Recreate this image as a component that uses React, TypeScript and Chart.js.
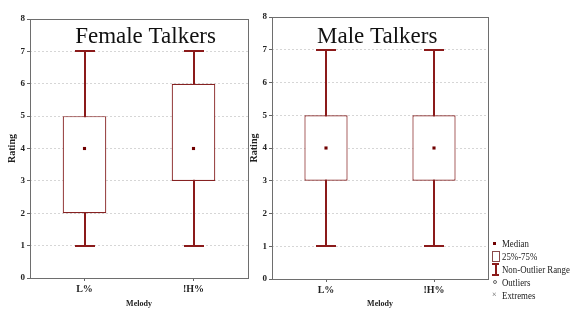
import React, { useEffect, useRef } from 'react';
import { Chart, registerables } from 'chart.js';
Chart.register(...registerables);

const categories = ['L%', '!H%'];
const femaleMin = [1, 1];
const femaleQ1 = [2, 3];
const femaleMedian = [4, 4];
const femaleQ3 = [5, 6];
const femaleMax = [7, 7];
const maleMin = [1, 1];
const maleQ1 = [3, 3];
const maleMedian = [4, 4];
const maleQ3 = [5, 5];
const maleMax = [7, 7];
const yMin = 0;
const yMax = 8;
const legendLabels = ['Median', '25%-75%', 'Non-Outlier Range', 'Outliers', 'Extremes'];

const SERIF = "'Liberation Serif', 'Times New Roman', serif";
const WHISKER = '#8b1a1a';
const BOX = '#862222';
const MEDIAN = '#700000';

const boxPlugin = {
  id: 'boxExtras',
  beforeDatasetsDraw(chart: any, _a: any, opts: any) {
    const { ctx, chartArea: ca } = chart;
    const xs = chart.scales.x;
    const ys = chart.scales.y;
    ctx.save();
    ctx.strokeStyle = '#6e6e6e';
    ctx.lineWidth = 1;
    ctx.strokeRect(
      Math.round(ca.left) + 0.5,
      Math.round(ca.top) + 0.5,
      Math.round(ca.right - ca.left),
      Math.round(ca.bottom - ca.top)
    );
    ctx.strokeStyle = WHISKER;
    ctx.lineWidth = 2;
    (opts.min || []).forEach((mn: number, i: number) => {
      const px = Math.round(xs.getPixelForValue(i));
      const y0 = Math.round(ys.getPixelForValue(mn));
      const y1 = Math.round(ys.getPixelForValue(opts.max[i]));
      ctx.beginPath();
      ctx.moveTo(px, y0);
      ctx.lineTo(px, y1);
      ctx.moveTo(px - 10, y0);
      ctx.lineTo(px + 10, y0);
      ctx.moveTo(px - 10, y1);
      ctx.lineTo(px + 10, y1);
      ctx.stroke();
    });
    ctx.restore();
  },
  afterDatasetsDraw(chart: any, _a: any, opts: any) {
    if (!opts.text) return;
    const { ctx, chartArea: ca } = chart;
    ctx.save();
    ctx.font = `23px ${SERIF}`;
    ctx.fillStyle = '#111';
    ctx.textAlign = 'center';
    ctx.textBaseline = 'alphabetic';
    ctx.fillText(opts.text, ca.left + opts.frac * (ca.right - ca.left), 43);
    ctx.restore();
  },
};

function makeConfig(
  q1: number[], q3: number[], med: number[], mn: number[], mx: number[],
  title: string, frac: number, yWidth: number, yTitlePad: number,
  topPad: number, rightPad: number, xHeight: number
): any {
  return {
    type: 'bar',
    data: {
      labels: categories,
      datasets: [
        {
          type: 'line',
          data: med,
          showLine: false,
          pointStyle: 'rect',
          pointRadius: 2.2,
          pointBackgroundColor: MEDIAN,
          pointBorderColor: MEDIAN,
          pointBorderWidth: 0,
          order: 0,
        },
        {
          type: 'bar',
          data: q1.map((v, i) => [v, q3[i]]),
          backgroundColor: '#ffffff',
          borderColor: BOX,
          borderWidth: 1.2,
          borderSkipped: false,
          barPercentage: 0.4,
          categoryPercentage: 1,
          order: 1,
        },
      ],
    },
    options: {
      responsive: false,
      animation: false,
      layout: { padding: { left: 0, right: rightPad, top: topPad, bottom: 0 } },
      plugins: {
        legend: { display: false },
        tooltip: { enabled: false },
        boxExtras: { min: mn, max: mx, text: title, frac },
      },
      scales: {
        x: {
          type: 'category',
          offset: true,
          grid: { display: true, drawOnChartArea: false, offset: false, tickLength: 3, tickColor: '#666' },
          border: { display: false },
          ticks: { font: { family: SERIF, size: 10, weight: 'bold' }, color: '#222', padding: 2, maxRotation: 0 },
          title: {
            display: true, text: 'Melody', color: '#222',
            font: { family: SERIF, size: 8, weight: 'bold' }, padding: { top: 0, bottom: 0 },
          },
          afterFit: (s: any) => { s.height = xHeight; },
        },
        y: {
          type: 'linear',
          min: yMin,
          max: yMax,
          ticks: { stepSize: 1, font: { family: SERIF, size: 9, weight: 'bold' }, color: '#222', padding: 2 },
          grid: {
            color: (c: any) => (c.tick && (c.tick.value === yMin || c.tick.value === yMax)) ? 'rgba(0,0,0,0)' : '#d6d6d6',
            tickColor: '#666',
            tickLength: 3,
            lineWidth: 1,
          },
          border: { display: false, dash: [2, 2] },
          title: {
            display: true, text: 'Rating', color: '#222',
            font: { family: SERIF, size: 10, weight: 'bold' }, padding: { top: yTitlePad, bottom: 0 },
          },
          afterFit: (s: any) => { s.width = yWidth; },
        },
      },
    },
    plugins: [boxPlugin],
  };
}

function Panel(props: { left: number; width: number; cfg: () => any }) {
  const ref = useRef<HTMLCanvasElement>(null);
  useEffect(() => {
    if (!ref.current) return;
    const chart = new Chart(ref.current, props.cfg());
    return () => chart.destroy();
  }, []);
  return (
    <canvas
      ref={ref}
      width={props.width}
      height={309}
      style={{ position: 'absolute', left: props.left, top: 0, width: props.width, height: 309 }}
    />
  );
}

const legendRows = [243, 256, 269, 282, 295];

function Symbol({ i }: { i: number }) {
  const base: any = { position: 'absolute' };
  if (i === 0) return <div style={{ ...base, left: 3, top: 5, width: 3, height: 3, background: MEDIAN }} />;
  if (i === 1)
    return <div style={{ ...base, left: 2, top: 1, width: 8, height: 11, border: '1px solid #8a4a4a', boxSizing: 'border-box', background: '#fff' }} />;
  if (i === 2)
    return (
      <div style={{ ...base, left: 2, top: 0, width: 7, height: 13 }}>
        <div style={{ position: 'absolute', left: 0, top: 0, width: 7, height: 2, background: WHISKER }} />
        <div style={{ position: 'absolute', left: 2.5, top: 0, width: 2, height: 13, background: WHISKER }} />
        <div style={{ position: 'absolute', left: 0, top: 11, width: 7, height: 2, background: WHISKER }} />
      </div>
    );
  if (i === 3)
    return <div style={{ ...base, left: 3, top: 4, width: 4, height: 4, border: '1px solid #666', borderRadius: '50%', boxSizing: 'border-box' }} />;
  return <div style={{ ...base, left: 2, top: -1, fontSize: 8, lineHeight: '13px', color: '#555', fontFamily: SERIF }}>×</div>;
}

export default function App() {
  return (
    <div style={{ position: 'fixed', left: 0, top: 0, width: 570, height: 309, background: '#fff', overflow: 'hidden' }}>
      <Panel
        left={0}
        width={252}
        cfg={() => makeConfig(femaleQ1, femaleQ3, femaleMedian, femaleMin, femaleMax, 'Female Talkers', 0.53, 30, 6, 19, 3, 31)}
      />
      <Panel
        left={248}
        width={244}
        cfg={() => makeConfig(maleQ1, maleQ3, maleMedian, maleMin, maleMax, 'Male Talkers', 0.487, 24, 0, 17, 2, 30)}
      />
      {legendLabels.map((t, i) => (
        <div key={t} style={{ position: 'absolute', left: 490, top: legendRows[i] - 6.5, height: 13, width: 80 }}>
          <Symbol i={i} />
          <div
            style={{
              position: 'absolute', left: 12, top: 0, whiteSpace: 'nowrap',
              fontFamily: SERIF, fontSize: 10.5, lineHeight: '13px', color: '#222',
              transform: 'scaleX(0.84)', transformOrigin: 'left center',
            }}
          >
            {t}
          </div>
        </div>
      ))}
    </div>
  );
}
